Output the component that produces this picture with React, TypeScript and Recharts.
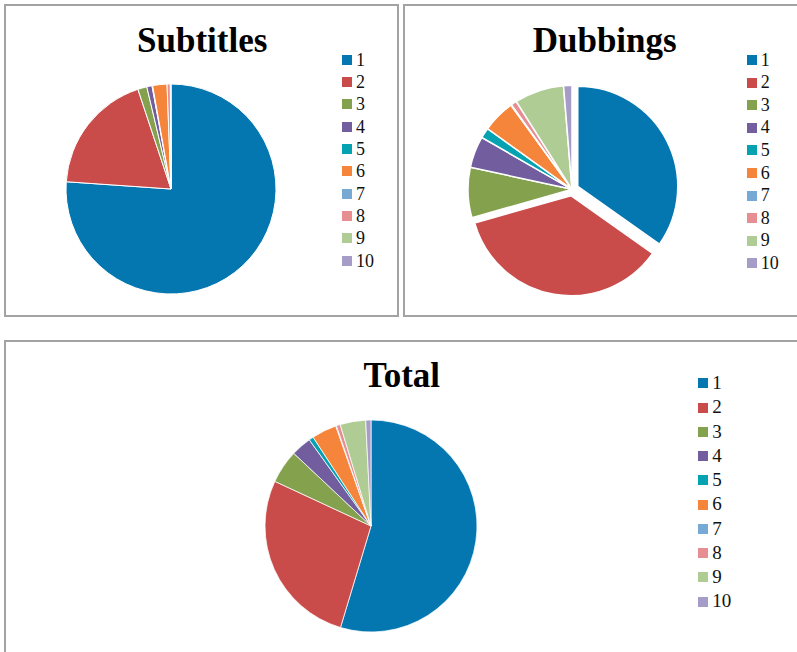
import { Cell, Pie, PieChart } from 'recharts';

const categories = ['1', '2', '3', '4', '5', '6', '7', '8', '9', '10'];
const colors = ['#0477B0', '#C94B4A', '#84A24E', '#725E9E', '#05A3B1', '#F5853A', '#77A9D5', '#E78E93', '#AFCC94', '#A59CC7'];

const subtitlesValues = [76.1, 18.8, 1.4, 0.8, 0.1, 2.2, 0, 0.5, 0.05, 0.05];
const dubbingsValues = [34.8, 35.8, 7.8, 4.9, 1.6, 5.1, 0.1, 0.9, 7.7, 1.3];
const totalValues = [54.7, 27.3, 5.1, 3.1, 0.7, 3.8, 0.1, 0.6, 3.9, 0.8];

// slices pulled out of the Dubbings pie
const dubbingsExploded = [0, 1];

const toRows = (values: number[]) => categories.map((name, i) => ({ name, value: values[i] }));

const serif = '"Liberation Serif", "Times New Roman", Times, serif';
const noMargin = { top: 0, right: 0, bottom: 0, left: 0 };

const box = (left: number, top: number, width: number, height: number): React.CSSProperties => ({
  position: 'absolute',
  left,
  top,
  width,
  height,
  boxSizing: 'border-box',
  border: '2px solid #a3a3a3',
  background: '#fff',
});

function LegendList({ left, top, rowHeight, fontSize }: { left: number; top: number; rowHeight: number; fontSize: number }) {
  return <div style={{ position: 'absolute', left, top, fontFamily: serif, fontSize, color: '#111' }}>
    {categories.map((c, i) => (
      <div key={c} style={{ height: rowHeight, lineHeight: `${rowHeight}px`, display: 'flex', alignItems: 'center' }}>
        <span style={{ width: 10, height: 10, background: colors[i], marginRight: 4, flex: 'none' }} />
        <span>{c}</span>
      </div>
    ))}
  </div>;
}

function Title({ text, cx, baseline }: { text: string; cx: number; baseline: number }) {
  return <div style={{
    position: 'absolute', left: cx - 150, width: 300, top: baseline - 29.3, textAlign: 'center',
    fontFamily: serif, fontWeight: 'bold', fontSize: 35, lineHeight: '35px', color: '#000',
  }}>{text}</div>;
}

// offset of an exploded slice, along its mid angle
function explodeOffset(values: number[], index: number, dist: number) {
  const sum = values.reduce((a, b) => a + b, 0);
  const before = values.slice(0, index).reduce((a, b) => a + b, 0);
  const mid = ((before + values[index] / 2) / sum) * 2 * Math.PI;
  return { dx: dist * Math.sin(mid), dy: -dist * Math.cos(mid) };
}

export default function App() {
  const dubRows = toRows(dubbingsValues);
  return <div style={{ position: 'absolute', left: 0, top: 0, width: 797, height: 652, overflow: 'hidden', background: '#fff' }}>
    <div style={box(4, 4, 395, 313)} />
    <div style={box(403, 4, 420, 313)} />
    <div style={box(4, 340, 820, 330)} />

    <div style={{ position: 'absolute', left: 0, top: 0 }}>
      <PieChart width={400} height={320} margin={noMargin}>
        <Pie data={toRows(subtitlesValues)} dataKey="value" nameKey="name" cx={171} cy={189} outerRadius={105}
          startAngle={90} endAngle={-270} stroke="#fff" strokeWidth={1} isAnimationActive={false}>
          {categories.map((c, i) => <Cell key={c} fill={colors[i]} />)}
        </Pie>
      </PieChart>
    </div>
    <Title text="Subtitles" cx={202.2} baseline={52.7} />
    <LegendList left={342} top={48.6} rowHeight={22.33} fontSize={18} />

    <div style={{ position: 'absolute', left: 400, top: 0 }}>
      <PieChart width={397} height={320} margin={noMargin}>
        <Pie data={dubRows} dataKey="value" nameKey="name" cx={172} cy={189.3} outerRadius={104}
          startAngle={90} endAngle={-270} stroke="#fff" strokeWidth={1.5} isAnimationActive={false}>
          {categories.map((c, i) => dubbingsExploded.includes(i)
            ? <Cell key={c} fill="none" stroke="none" />
            : <Cell key={c} fill={colors[i]} />)}
        </Pie>
        {dubbingsExploded.map((k) => {
          const { dx, dy } = explodeOffset(dubbingsValues, k, 6.5);
          return <Pie key={`ex-${k}`} data={dubRows} dataKey="value" nameKey="name" cx={172 + dx} cy={189.3 + dy} outerRadius={100}
            startAngle={90} endAngle={-270} stroke="#fff" strokeWidth={1.5} isAnimationActive={false} legendType="none">
            {categories.map((c, i) => i === k
              ? <Cell key={c} fill={colors[i]} />
              : <Cell key={c} fill="none" stroke="none" />)}
          </Pie>;
        })}
      </PieChart>
    </div>
    <Title text="Dubbings" cx={604.7} baseline={52.3} />
    <LegendList left={746.7} top={48.7} rowHeight={22.6} fontSize={18} />

    <div style={{ position: 'absolute', left: 0, top: 320 }}>
      <PieChart width={797} height={332} margin={noMargin}>
        <Pie data={toRows(totalValues)} dataKey="value" nameKey="name" cx={371} cy={206} outerRadius={106}
          startAngle={90} endAngle={-270} stroke="#fff" strokeWidth={0.75} isAnimationActive={false}>
          {categories.map((c, i) => <Cell key={c} fill={colors[i]} />)}
        </Pie>
      </PieChart>
    </div>
    <Title text="Total" cx={401.8} baseline={387.3} />
    <LegendList left={698.3} top={371.2} rowHeight={24.26} fontSize={19} />
  </div>;
}
